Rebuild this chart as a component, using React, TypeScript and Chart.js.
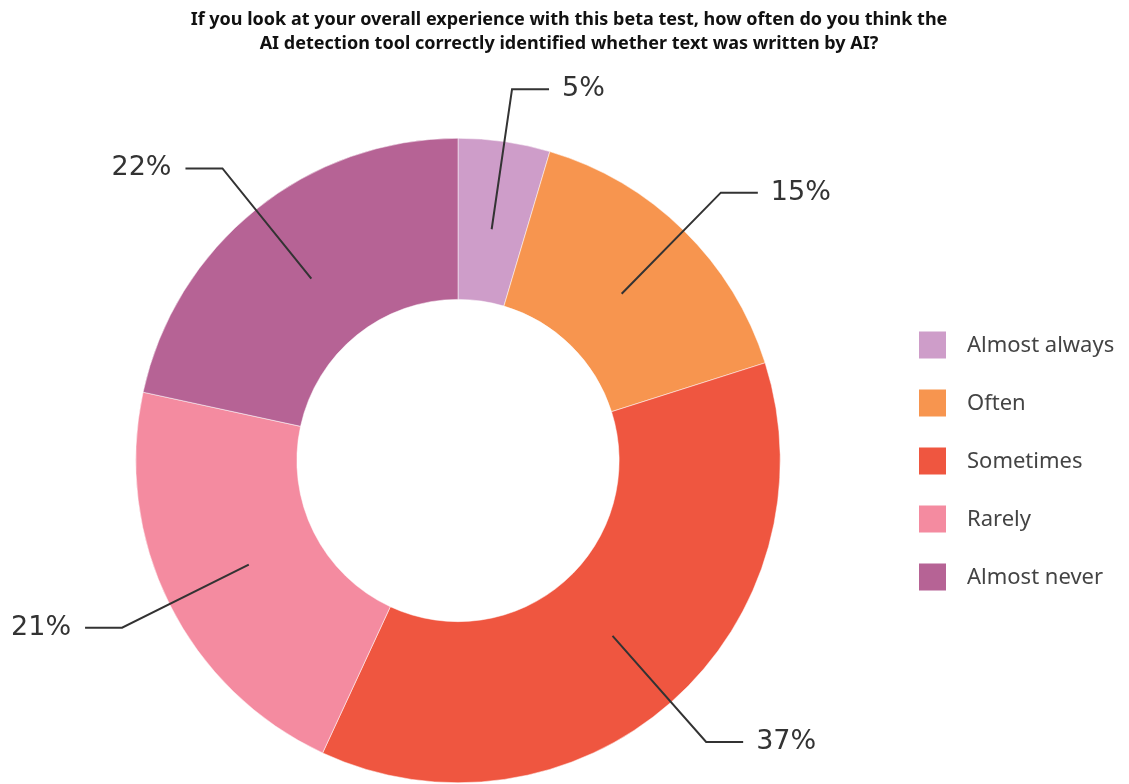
import React, { useEffect, useRef } from "react";
import { Chart, registerables } from "chart.js";

Chart.register(...registerables);

const categories = ["Almost always", "Often", "Sometimes", "Rarely", "Almost never"];
const values = [4.6, 15.5, 36.8, 21.5, 21.6];
const valueLabels = ["5%", "15%", "37%", "21%", "22%"];
const colors = ["#CE9DC9", "#F7954F", "#EF5640", "#F48BA0", "#B66395"];
const titleLines = [
  "If you look at your overall experience with this beta test, how often do you think the",
  "AI detection tool correctly identified whether text was written by AI?",
];

const overlayPlugin = {
  id: "overlay",
  afterDraw(chart: any) {
    const ctx = chart.ctx as CanvasRenderingContext2D;
    ctx.save();
    // Title (fit first line to reference width)
    ctx.font = "bold 16px 'Noto Sans', sans-serif";
    const w0 = ctx.measureText(titleLines[0]).width;
    const tSize = Math.min(18, (16 * 775) / w0);
    ctx.fillStyle = "#111";
    ctx.font = `bold ${tSize}px 'Noto Sans', sans-serif`;
    ctx.textAlign = "center";
    ctx.textBaseline = "middle";
    ctx.fillText(titleLines[0], 569, 20);
    ctx.fillText(titleLines[1], 569, 44);

    // Leader labels
    const meta = chart.getDatasetMeta(0);
    meta.data.forEach((arc: any, i: number) => {
      const p = arc.getProps(["x", "y", "startAngle", "endAngle", "innerRadius", "outerRadius"], true);
      const mid = (p.startAngle + p.endAngle) / 2;
      const cx = Math.cos(mid), cy = Math.sin(mid);
      const r1 = (p.innerRadius + p.outerRadius) / 2 - 8;
      const r2 = p.outerRadius + 53;
      const x1 = p.x + cx * r1, y1 = p.y + cy * r1;
      const x2 = p.x + cx * r2, y2 = p.y + cy * r2;
      const right = cx >= 0;
      const x3 = x2 + (right ? 37 : -37);
      ctx.strokeStyle = "#333";
      ctx.lineWidth = 2;
      ctx.beginPath();
      ctx.moveTo(x1, y1);
      ctx.lineTo(x2, y2);
      ctx.lineTo(x3, y2);
      ctx.stroke();
      ctx.fillStyle = "#333";
      ctx.font = "27px 'DejaVu Sans', sans-serif";
      ctx.textAlign = right ? "left" : "right";
      ctx.textBaseline = "middle";
      ctx.fillText(valueLabels[i], x3 + (right ? 13 : -14), y2);
    });

    // Legend
    categories.forEach((c, i) => {
      const y = 345 + i * 58;
      ctx.fillStyle = colors[i];
      ctx.fillRect(919, y - 13.5, 27, 27);
      ctx.fillStyle = "#444";
      ctx.font = "22px 'Noto Sans', sans-serif";
      ctx.textAlign = "left";
      ctx.textBaseline = "middle";
      ctx.fillText(c, 967, y + 1);
    });
    ctx.restore();
  },
};

export default function App() {
  const ref = useRef<HTMLCanvasElement | null>(null);
  useEffect(() => {
    document.body.style.margin = "0";
    const chart = new Chart(ref.current!, {
      type: "doughnut",
      data: {
        labels: categories,
        datasets: [
          {
            data: values,
            backgroundColor: colors,
            borderColor: "#ffffff",
            borderWidth: 0.5,
          },
        ],
      },
      options: {
        animation: false,
        responsive: false,
        cutout: "50%",
        layout: { padding: { top: 138, bottom: 1, left: 0, right: 213 } },
        plugins: {
          legend: { display: false },
          title: { display: false },
          tooltip: { enabled: false },
        },
      },
      plugins: [overlayPlugin],
    });
    return () => chart.destroy();
  }, []);
  return (
    <div style={{ width: 1129, height: 784 }}>
      <canvas ref={ref} width={1129} height={784} style={{ display: "block" }} />
    </div>
  );
}
